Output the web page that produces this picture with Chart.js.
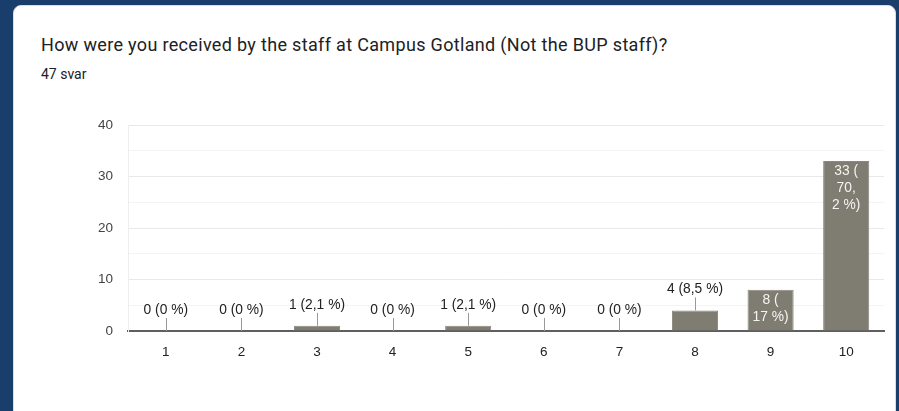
<!DOCTYPE html>
<html>
<head>
<meta charset="utf-8">
<script src="https://cdn.jsdelivr.net/npm/chart.js@4.4.1/dist/chart.umd.min.js"></script>
<style>
  html, body { margin: 0; padding: 0; }
  body { width: 899px; height: 411px; background: #1a3e6b; position: relative; overflow: hidden; }
  .card {
    position: absolute; left: 13px; top: 5px; width: 881px; height: 420px;
    background: #fff; border: 1px solid #dadce0; border-radius: 8px;
  }
  .title {
    position: absolute; left: 27px; top: 28px; margin: 0;
    font: 400 18px Roboto, "Noto Sans", sans-serif; letter-spacing: 0.33px;
    color: #202124; white-space: nowrap;
  }
  .count {
    position: absolute; left: 27px; top: 60px;
    font: 400 14px Roboto, "Noto Sans", sans-serif; color: #202124;
  }
  #chart-wrap { position: absolute; left: 0; top: 95px; width: 880px; height: 280px; }
</style>
</head>
<body>
<div class="card">
  <p class="title">How were you received by the staff at Campus Gotland (Not the BUP staff)?</p>
  <div class="count">47 svar</div>
  <div id="chart-wrap"><canvas id="chart"></canvas></div>
</div>
<script>
// --- Data ---
const categories = ['1', '2', '3', '4', '5', '6', '7', '8', '9', '10'];
const counts = [0, 0, 1, 0, 1, 0, 0, 4, 8, 33];
const percents = ['0', '0', '2,1', '0', '2,1', '0', '0', '8,5', '17', '70,2'];
// how the labels wrap when they sit inside a tall bar
const insideLines = {
    8: ['8 (', '17 %)'],
    9: ['33 (', '70,', '2 %)']
};
const yTicks = [0, 10, 20, 30, 40];

const labelFont = '13.8px Arial, "Liberation Sans", sans-serif';
const tickFont = { family: 'Arial, "Liberation Sans", sans-serif', size: 13.5 };

// Draws "n (p %)" above short bars with a little stem, or inside tall bars.
const barLabels = {
    id: 'barLabels',
    afterDatasetsDraw(chart) {
        const ctx = chart.ctx;
        const meta = chart.getDatasetMeta(0);
        ctx.save();
        ctx.font = labelFont;
        ctx.textAlign = 'center';
        ctx.textBaseline = 'middle';
        meta.data.forEach(function (bar, i) {
            const x = bar.x;
            const top = bar.y;
            if (insideLines[i]) {
                ctx.fillStyle = '#f4f4f2';
                insideLines[i].forEach(function (line, k) {
                    ctx.fillText(line, x, top + 10 + k * 17);
                });
                return;
            }
            const text = counts[i] + ' (' + percents[i] + ' %)';
            ctx.fillStyle = '#222222';
            ctx.fillText(text, x, top - 21);
            ctx.strokeStyle = '#999999';
            ctx.lineWidth = 1;
            ctx.beginPath();
            ctx.moveTo(Math.round(x) + 0.5, top - 13);
            ctx.lineTo(Math.round(x) + 0.5, top);
            ctx.stroke();
        });
        ctx.restore();
    }
};

new Chart(document.getElementById('chart'), {
    type: 'bar',
    data: {
        labels: categories,
        datasets: [{
            data: counts,
            backgroundColor: '#7f7d71',
            borderColor: '#8a887d',
            borderWidth: 1,
            categoryPercentage: 1,
            barPercentage: 0.61
        }]
    },
    options: {
        responsive: true,
        maintainAspectRatio: false,
        animation: false,
        layout: { padding: { left: 0, right: 10, top: 24, bottom: 0 } },
        plugins: {
            legend: { display: false },
            tooltip: { enabled: false }
        },
        scales: {
            x: {
                grid: { display: false },
                border: { display: true, color: '#5f5f5f', width: 2 },
                ticks: { color: '#222222', font: tickFont, padding: 5 },
                afterFit: function (scale) { scale.height = 50; }
            },
            y: {
                min: 0,
                max: 40,
                border: { display: true, color: '#eeeeee' },
                grid: {
                    drawTicks: false,
                    color: function (c) {
                        if (c.tick.value === 0) return 'rgba(0,0,0,0)';
                        return yTicks.includes(c.tick.value) ? '#e9e9e9' : '#f4f4f4';
                    }
                },
                ticks: {
                    stepSize: 5,
                    padding: 15,
                    color: '#444444',
                    font: tickFont,
                    callback: function (v) { return yTicks.includes(v) ? String(v) : ''; }
                },
                afterFit: function (scale) { scale.width = 114; }
            }
        }
    },
    plugins: [barLabels]
});
</script>
</body>
</html>
